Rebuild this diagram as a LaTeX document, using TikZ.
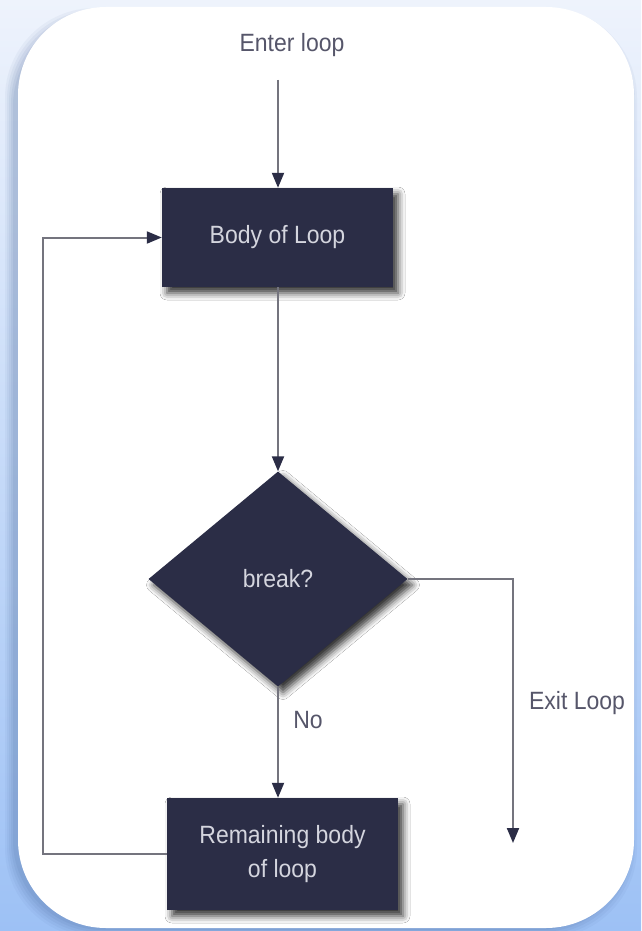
\documentclass[tikz,border=0pt]{standalone}
\usepackage{fontspec}
\setmainfont{Liberation Sans}[FakeStretch=0.92]
\usetikzlibrary{shapes.geometric,arrows.meta,shadows.blur}
\definecolor{navy}{HTML}{2B2D46}
\definecolor{boxtext}{HTML}{D4D5DE}
\definecolor{lbltext}{HTML}{56566A}
\definecolor{linegray}{HTML}{74747E}
\definecolor{bgtop}{HTML}{EEF3FC}
\definecolor{bgbot}{HTML}{9DC1F5}
\definecolor{cardshadow}{HTML}{3F5F94}
\begin{document}
\begin{tikzpicture}[x=1pt,y=-1pt,
  boxnode/.style={fill=navy, text=boxtext, font=\fontsize{25}{34}\selectfont, align=center, inner sep=0pt,
    blur shadow={shadow xshift=5pt, shadow yshift=-6pt, shadow blur radius=7pt, shadow opacity=80}},
  diam/.style={diamond, fill=navy, text=boxtext, font=\fontsize{25}{34}\selectfont, inner sep=0pt,
    minimum width=259pt, minimum height=215pt,
    blur shadow={shadow xshift=5pt, shadow yshift=-6pt, shadow blur radius=7pt, shadow opacity=80}},
  lbl/.style={text=lbltext, font=\fontsize{25}{30}\selectfont, inner sep=0pt},
  conn/.style={draw=linegray, line width=2pt, -{Triangle[length=15pt,width=12pt,color=navy]}}
]
\useasboundingbox (0,0) rectangle (641,931);
\shade[top color=bgtop, bottom color=bgbot] (0,0) rectangle (641,931);
% card shadow (to the left and below)
\foreach \r/\o in {9/0.05,7/0.06,5/0.07,3/0.08,1/0.09}{
  \fill[cardshadow, opacity=\o, rounded corners=90pt]
    (18-4-\r,7+10-\r) rectangle (634-6+\r,928+1+\r);
}
\fill[white, rounded corners=88pt] (18,7) rectangle (634,928);

\node[lbl] (enter) at (292,45) {Enter loop};
\coordinate (start) at (278,80);
\node[boxnode, minimum width=231pt, minimum height=99pt] (body) at (277.5,237.5) {Body of Loop};
\node[diam] (brk) at (278,579) {break?};
\node[boxnode, minimum width=231pt, minimum height=112pt] (rem) at (282.5,854) {Remaining body\\of loop};
\node[lbl] (no) at (308,720) {No};
\node[lbl] (exitl) at (577,703) {Exit Loop};
\coordinate (exitend) at (513,843);
\coordinate (loopx) at (43,0);

\draw[conn] (start) -- (start |- body.north);
\draw[conn] (body.south -| start) -- (brk.north);
\draw[conn] (brk.south) -- (brk.south |- rem.north);
\draw[conn] (brk.east) -| (exitend);
\draw[conn] (rem.west) -- (loopx |- rem.west) -- (loopx |- body.west) -- (body.west);
\end{tikzpicture}
\end{document}
